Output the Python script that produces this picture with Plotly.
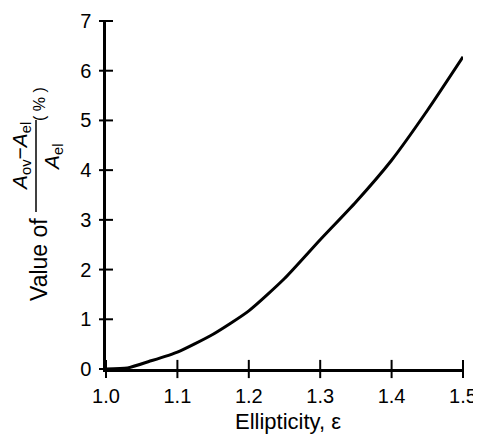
import plotly.graph_objects as go

# Data
ellipticity = [1.0, 1.03, 1.06, 1.10, 1.15, 1.20, 1.25, 1.30, 1.35, 1.40, 1.45, 1.50]
area_excess = [0.0, 0.02, 0.15, 0.34, 0.70, 1.17, 1.82, 2.60, 3.36, 4.20, 5.20, 6.28]

x_ticks = [1.0, 1.1, 1.2, 1.3, 1.4, 1.5]
y_ticks = [0, 1, 2, 3, 4, 5, 6, 7]

FONT = "Liberation Sans, Arial, Helvetica, sans-serif"
FS = 20
OFF = 8                      # page body margin in the browser
WIN_W, WIN_H = 481, 437
AX_L, AX_R, AX_T, AX_B = 106, 463, 21, 369   # plot box in window pixels

W, H = WIN_W - OFF, WIN_H - OFF
ML, MT = AX_L - OFF, AX_T - OFF
MR, MB = OFF + W - AX_R, OFF + H - AX_B
PW, PH = AX_R - AX_L, AX_B - AX_T

def px_x(p):
    return (p - AX_L) / PW

def px_y(p):
    return (AX_B - p) / PH

fig = go.Figure()
fig.add_trace(go.Scatter(x=ellipticity, y=area_excess, mode="lines",
                         line=dict(color="black", width=3, shape="spline", smoothing=0.6),
                         hoverinfo="skip", showlegend=False, cliponaxis=False))
# tick marks that cross the axis lines, placed at the tick values
fig.add_trace(go.Scatter(x=x_ticks, y=[y_ticks[0]] * len(x_ticks), mode="markers",
                         marker=dict(symbol="line-ns-open", size=13, color="black",
                                     line=dict(color="black", width=2)),
                         hoverinfo="skip", showlegend=False, cliponaxis=False))
fig.add_trace(go.Scatter(x=[x_ticks[0]] * len(y_ticks), y=y_ticks, mode="markers",
                         marker=dict(symbol="line-ew-open", size=10, color="black",
                                     line=dict(color="black", width=2)),
                         hoverinfo="skip", showlegend=False, cliponaxis=False))

axis_common = dict(showgrid=False, zeroline=False, ticks="", automargin=False,
                   showline=True, linecolor="black", linewidth=2.5)

fig.update_layout(
    width=W, height=H,
    margin=dict(l=ML, r=MR, t=MT, b=MB, autoexpand=False),
    paper_bgcolor="white", plot_bgcolor="white",
    font=dict(family=FONT, color="black", size=FS),
    xaxis=dict(range=[1.0, 1.5], tickvals=x_ticks, tickformat=".1f",
               tickfont=dict(size=FS), ticklabelstandoff=7, **axis_common),
    yaxis=dict(range=[0, 7], tickvals=y_ticks, tickfont=dict(size=FS),
               ticklabelstandoff=8, **axis_common),
)

# X-axis title
fig.add_annotation(text="Ellipticity, ε", xref="paper", yref="paper",
                   x=px_x(288), y=px_y(421), xanchor="center", yanchor="middle",
                   showarrow=False, borderpad=0, font=dict(family=FONT, size=22))

# Y-axis title built as a stacked fraction
ann = dict(xref="paper", yref="paper", showarrow=False, textangle=-90,
           xanchor="center", yanchor="middle")
fig.add_annotation(text="Value of", x=px_x(39), y=px_y(260),
                   font=dict(family=FONT, size=23), **ann)
fig.add_annotation(text="<i>A</i><sub>ov</sub>−<i>A</i><sub>el</sub>",
                   x=px_x(21), y=px_y(157), font=dict(family=FONT, size=21), **ann)
fig.add_annotation(text="<i>A</i><sub>el</sub>", x=px_x(53), y=px_y(158),
                   font=dict(family=FONT, size=21), **ann)
fig.add_annotation(text="( % )", x=px_x(39), y=px_y(104),
                   font=dict(family=FONT, size=16), **ann)
fig.add_shape(type="line", xref="paper", yref="paper",
              x0=px_x(36), x1=px_x(36), y0=px_y(212), y1=px_y(120),
              line=dict(color="black", width=1.5))

fig.write_html("out.html")
